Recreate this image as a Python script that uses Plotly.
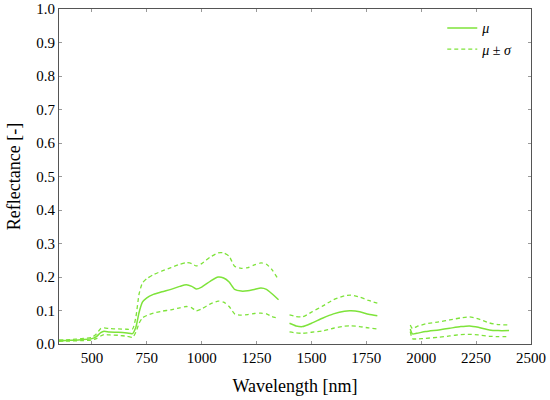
import plotly.graph_objects as go

# Wavelengths (nm); None marks the water-absorption gaps
wavelength = [350, 400, 450, 500, 520, 540, 555, 580, 620, 660, 685, 700, 715, 730, 750, 780, 820, 860, 900, 930, 955, 975, 1000, 1040, 1075, 1100, 1125, 1150, 1180, 1210, 1240, 1270, 1295, 1320, 1350,
              None,
              1400, 1430, 1460, 1500, 1550, 1600, 1650, 1680, 1720, 1760, 1800,
              None,
              1950, 1960, 1980, 2020, 2080, 2130, 2180, 2220, 2260, 2310, 2350, 2400]

mean = [0.010, 0.011, 0.013, 0.016, 0.022, 0.034, 0.038, 0.036, 0.035, 0.033, 0.031, 0.050, 0.095, 0.125, 0.138, 0.148, 0.156, 0.163, 0.172, 0.177, 0.172, 0.164, 0.170, 0.188, 0.200, 0.197, 0.185, 0.163, 0.158, 0.159, 0.163, 0.167, 0.163, 0.150, 0.132,
        None,
        0.062, 0.054, 0.052, 0.062, 0.077, 0.090, 0.098, 0.099, 0.096, 0.089, 0.084,
        None,
        0.045, 0.030, 0.032, 0.037, 0.042, 0.047, 0.052, 0.054, 0.050, 0.042, 0.040, 0.040]

upper = [0.012, 0.013, 0.016, 0.020, 0.030, 0.046, 0.048, 0.046, 0.045, 0.044, 0.045, 0.080, 0.150, 0.182, 0.195, 0.207, 0.218, 0.228, 0.238, 0.243, 0.240, 0.233, 0.240, 0.260, 0.272, 0.272, 0.262, 0.232, 0.226, 0.228, 0.236, 0.242, 0.238, 0.222, 0.192,
         None,
         0.087, 0.082, 0.081, 0.095, 0.113, 0.132, 0.144, 0.146, 0.140, 0.130, 0.122,
         None,
         0.057, 0.046, 0.052, 0.060, 0.066, 0.072, 0.078, 0.081, 0.075, 0.063, 0.058, 0.057]

lower = [0.008, 0.009, 0.010, 0.012, 0.016, 0.024, 0.028, 0.027, 0.026, 0.023, 0.020, 0.035, 0.062, 0.078, 0.085, 0.092, 0.098, 0.102, 0.108, 0.112, 0.108, 0.099, 0.105, 0.120, 0.128, 0.125, 0.112, 0.090, 0.086, 0.088, 0.091, 0.092, 0.090, 0.082, 0.076,
         None,
         0.036, 0.033, 0.032, 0.035, 0.039, 0.047, 0.053, 0.054, 0.052, 0.048, 0.045,
         None,
         0.037, 0.016, 0.015, 0.017, 0.020, 0.024, 0.028, 0.029, 0.027, 0.023, 0.022, 0.022]

x_ticks = [500, 750, 1000, 1250, 1500, 1750, 2000, 2250, 2500]
y_ticks = [0.0, 0.1, 0.2, 0.3, 0.4, 0.5, 0.6, 0.7, 0.8, 0.9, 1.0]

GREEN = "#7ee33a"
FONT = "Liberation Serif, Times New Roman, serif"

fig = go.Figure()
fig.add_trace(go.Scatter(x=wavelength, y=mean, mode="lines", name="<i>μ</i>",
                         line=dict(color=GREEN, width=1.5, shape="spline", smoothing=0.6),
                         connectgaps=False))
fig.add_trace(go.Scatter(x=wavelength, y=upper, mode="lines", name="<i>μ</i> ± <i>σ</i>",
                         legendgroup="sd",
                         line=dict(color=GREEN, width=1.3, dash="4px,3px", shape="spline", smoothing=0.6),
                         connectgaps=False))
fig.add_trace(go.Scatter(x=wavelength, y=lower, mode="lines", name="<i>μ</i> ± <i>σ</i>",
                         legendgroup="sd", showlegend=False,
                         line=dict(color=GREEN, width=1.3, dash="4px,3px", shape="spline", smoothing=0.6),
                         connectgaps=False))

axis_common = dict(showline=True, linecolor="#555555", linewidth=1, mirror="ticks",
                   ticks="inside", ticklen=3, tickcolor="#999999",
                   showgrid=False, zeroline=False, automargin=False,
                   tickfont=dict(family=FONT, size=15, color="black"))

fig.update_layout(
    width=550, height=400,
    margin=dict(l=59, r=19, t=9, b=56, autoexpand=False),
    paper_bgcolor="white", plot_bgcolor="white",
    font=dict(family=FONT, color="black"),
    xaxis=dict(range=[350, 2500], tickvals=x_ticks,
               title=dict(text="Wavelength [nm]", font=dict(family=FONT, size=18), standoff=14),
               **axis_common),
    yaxis=dict(range=[0, 1.0], tickvals=y_ticks, tickformat=".1f",
               title=dict(text="Reflectance [-]", font=dict(family=FONT, size=18), standoff=10),
               **axis_common),
    legend=dict(x=0.812, y=0.99, xanchor="left", yanchor="top",
                bgcolor="rgba(0,0,0,0)", font=dict(family=FONT, size=14),
                itemwidth=30, tracegroupgap=0),
)

fig.write_html("out.html", config={"displayModeBar": False},
               post_script="document.body.style.margin='0';document.body.style.overflow='hidden';")
